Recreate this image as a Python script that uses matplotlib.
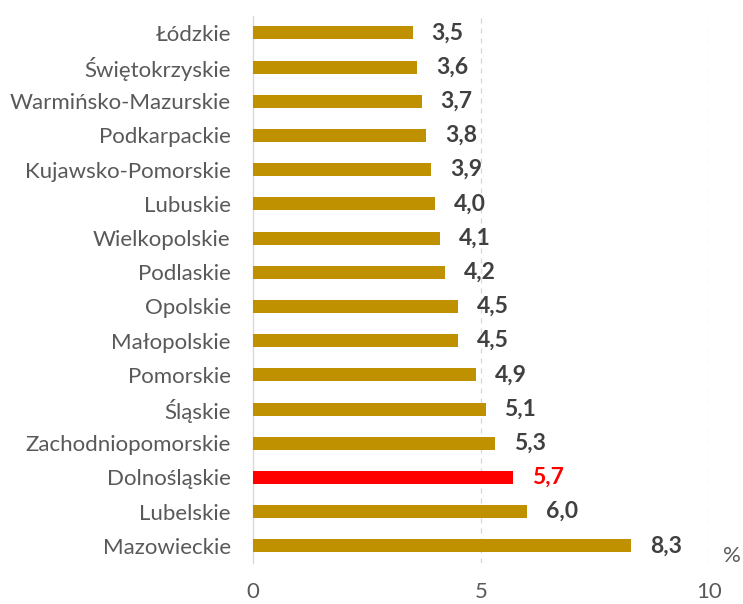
import matplotlib
matplotlib.use("Agg")
import matplotlib.pyplot as plt

regions = ["Łódzkie", "Świętokrzyskie", "Warmińsko-Mazurskie", "Podkarpackie",
           "Kujawsko-Pomorskie", "Lubuskie", "Wielkopolskie", "Podlaskie",
           "Opolskie", "Małopolskie", "Pomorskie", "Śląskie",
           "Zachodniopomorskie", "Dolnośląskie", "Lubelskie", "Mazowieckie"]
values = [3.5, 3.6, 3.7, 3.8, 3.9, 4.0, 4.1, 4.2,
          4.5, 4.5, 4.9, 5.1, 5.3, 5.7, 6.0, 8.3]
highlight = "Dolnośląskie"
x_ticks = [0, 5, 10]

GOLD = "#BF9000"
RED = "#FF0000"
GREY = "#595959"
DARK = "#404040"

plt.rcParams["font.family"] = ["Lato", "DejaVu Sans"]

fig = plt.figure(figsize=(7.43, 6.04), dpi=100)
ax = fig.add_axes([0.3405, 0.068, 0.6137, 0.906])

colors = [RED if r == highlight else GOLD for r in regions]
ypos = list(range(len(regions)))
ax.barh(ypos, values, height=0.38, color=colors, zorder=3)

for y, v, c in zip(ypos, values, colors):
    ax.annotate(f"{v:.1f}".replace(".", ","), xy=(v, y), xytext=(19, 0),
                textcoords="offset pixels", va="center", ha="left",
                fontsize=16.5, fontweight="bold",
                color=RED if c == RED else DARK)

ax.set_xlim(0, 10)
ax.set_ylim(len(regions) - 0.5, -0.5)
ax.set_yticks(ypos)
ax.set_yticklabels(regions, fontsize=16, color=GREY)
ax.set_xticks(x_ticks)
ax.set_xticklabels([str(t) for t in x_ticks], fontsize=16, color=GREY)
ax.tick_params(axis="both", length=0)
ax.tick_params(axis="y", pad=16)
ax.tick_params(axis="x", pad=14)

for t in x_ticks[1:]:
    ax.axvline(t, color="#D6D6D6", lw=0.9, ls=(0, (4, 4)), zorder=1)

for side in ["top", "right", "bottom"]:
    ax.spines[side].set_visible(False)
ax.spines["left"].set_color("#D9D9D9")
ax.spines["left"].set_linewidth(1.0)

fig.text(732 / 743, 1 - 556 / 604, "%", fontsize=16, color=GREY,
         ha="center", va="center")

fig.savefig("out.png", dpi=100)
